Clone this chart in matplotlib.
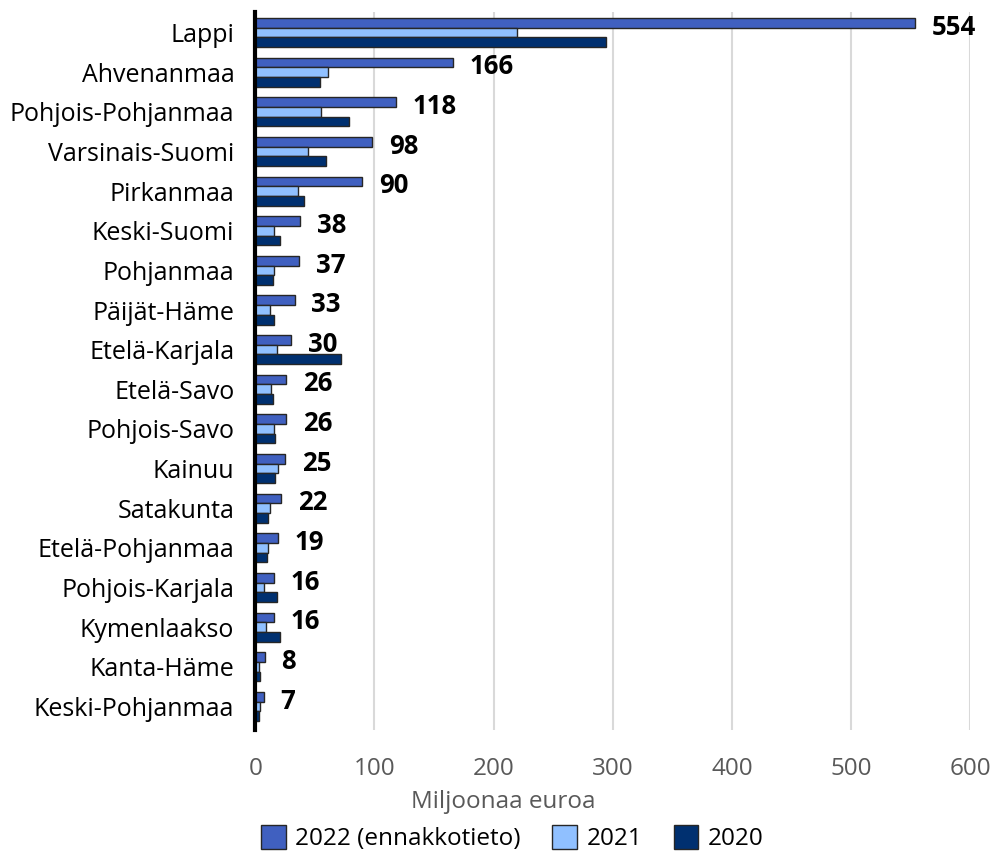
import matplotlib.pyplot as plt
import numpy as np

plt.rcParams['font.family'] = ['Open Sans', 'DejaVu Sans']

regions = ['Lappi', 'Ahvenanmaa', 'Pohjois-Pohjanmaa', 'Varsinais-Suomi', 'Pirkanmaa',
           'Keski-Suomi', 'Pohjanmaa', 'Päijät-Häme', 'Etelä-Karjala', 'Etelä-Savo',
           'Pohjois-Savo', 'Kainuu', 'Satakunta', 'Etelä-Pohjanmaa', 'Pohjois-Karjala',
           'Kymenlaakso', 'Kanta-Häme', 'Keski-Pohjanmaa']
v2022 = [554, 166, 118, 98, 90, 38, 37, 33, 30, 26, 26, 25, 22, 19, 16, 16, 8, 7]
v2021 = [220, 61, 55, 44, 36, 16, 16, 12, 18, 13, 16, 19, 12, 11, 7, 9, 3, 4]
v2020 = [294, 54, 79, 59, 41, 21, 15, 16, 72, 15, 17, 17, 11, 10, 18, 21, 4, 3]
series_names = ['2022 (ennakkotieto)', '2021', '2020']
colors = ['#4060C0', '#90C0FF', '#003070']

fig = plt.figure(figsize=(9.93, 8.52), dpi=100)
ax = fig.add_axes([0.257, 0.143, 0.72, 0.843])

y = np.arange(len(regions))
h = 0.245
for i, (vals, name, c) in enumerate(zip([v2022, v2021, v2020], series_names, colors)):
    ax.barh(y + (i - 1) * h, vals, height=h, color=c, edgecolor='#262626',
            linewidth=1, label=name, zorder=3)

# value labels for 2022 only
for yi, v in zip(y, v2022):
    ax.annotate(str(v), (v, yi - h + 0.11), xytext=(12, 0), textcoords='offset points',
                ha='left', va='center', fontsize=18.5, fontweight='bold', color='black')

ax.set_xlim(0, 600)
ax.set_ylim(17.6, -0.52)
ax.set_xticks(range(0, 601, 100))
ax.set_yticks(y)
ax.set_yticklabels(regions, fontsize=18, color='black')
ax.tick_params(axis='x', labelsize=17.5, labelcolor='#595959', length=0, pad=19)
ax.tick_params(axis='y', length=0, pad=15)
ax.grid(axis='x', color='#D9D9D9', linewidth=1.5, zorder=0)
for s in ['top', 'right', 'bottom']:
    ax.spines[s].set_visible(False)
ax.spines['left'].set_linewidth(3)
ax.spines['left'].set_zorder(4)

fig.text(0.507, 0.059, 'Miljoonaa euroa', ha='center', va='center', fontsize=17.5, color='#595959')

fig.legend(loc='center', bbox_to_anchor=(0.516, 0.016), ncol=3, frameon=False,
           fontsize=17.5, handlelength=1.0, handleheight=1.1, handletextpad=0.4,
           columnspacing=1.3, borderpad=0.2)

fig.savefig('out.png', dpi=100)
